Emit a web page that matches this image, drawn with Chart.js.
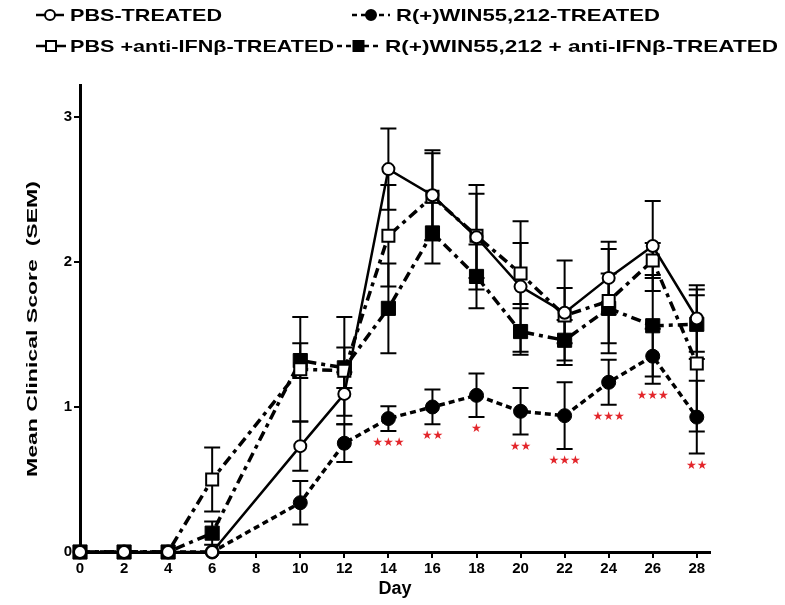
<!DOCTYPE html>
<html>
<head>
<meta charset="utf-8">
<script src="https://cdn.jsdelivr.net/npm/chart.js@4.4.1/dist/chart.umd.min.js"></script>
<style>
  html, body { margin: 0; padding: 0; background: #fff; }
  #wrap { width: 785px; height: 605px; position: relative; }
</style>
</head>
<body>
<div id="wrap"><canvas id="chart" width="785" height="605"></canvas></div>
<script>
// data
const days = [0, 2, 4, 6, 10, 12, 14, 16, 18, 20, 22, 24, 26, 28];
const xTicks = [0, 2, 4, 6, 8, 10, 12, 14, 16, 18, 20, 22, 24, 26, 28];
const yTicks = [0, 1, 2, 3];

const pbs        = [0, 0, 0, 0, 0.73, 1.09, 2.64, 2.46, 2.17, 1.83, 1.65, 1.89, 2.11, 1.61];
const pbsSem     = [0, 0, 0, 0, 0.17, 0.15, 0.28, 0.31, 0.36, 0.45, 0.36, 0.25, 0.31, 0.23];
const win        = [0, 0, 0, 0, 0.34, 0.75, 0.92, 1.00, 1.08, 0.97, 0.94, 1.17, 1.35, 0.93];
const winSem     = [0, 0, 0, 0, 0.15, 0.13, 0.085, 0.12, 0.15, 0.16, 0.23, 0.155, 0.19, 0.25];
const pbsAnti    = [0, 0, 0, 0.50, 1.26, 1.25, 2.18, 2.45, 2.18, 1.92, 1.63, 1.73, 2.01, 1.30];
const pbsAntiSem = [0, 0, 0, 0.22, 0.36, 0.37, 0.35, 0.30, 0.29, 0.21, 0.19, 0.36, 0.12, 0.47];
const winAnti    = [0, 0, 0, 0.13, 1.32, 1.27, 1.68, 2.20, 1.90, 1.52, 1.46, 1.68, 1.56, 1.57];
const winAntiSem = [0, 0, 0, 0.08, 0.12, 0.14, 0.31, 0.21, 0.22, 0.16, 0.14, 0.24, 0.35, 0.24];

// significance marks under the R(+)WIN55,212 series
const stars = ['', '', '', '', '', '', '★★★', '★★', '★', '★★', '★★★', '★★★', '★★★', '★★'];

const labels = [
  'PBS-TREATED',
  'R(+)WIN55,212-TREATED',
  'PBS +anti-IFNβ-TREATED',
  'R(+)WIN55,212 + anti-IFNβ-TREATED'
];
const yTitle = 'Mean Clinical Score  (SEM)';

const toPts = arr => arr.map((v, i) => ({ x: days[i], y: v }));
const semSets = [pbsSem, winSem, pbsAntiSem, winAntiSem];

// error bars under the markers
const errorBars = {
  id: 'errorBars',
  beforeDatasetsDraw(chart) {
    const { ctx, scales: { x, y } } = chart;
    ctx.save();
    ctx.strokeStyle = '#000';
    ctx.lineWidth = 2;
    chart.data.datasets.forEach((ds, d) => {
      semSets[d].forEach((e, i) => {
        if (!e) return;
        const px = x.getPixelForValue(days[i]);
        const hi = y.getPixelForValue(ds.data[i].y + e);
        const lo = y.getPixelForValue(ds.data[i].y - e);
        ctx.beginPath();
        ctx.moveTo(px, hi); ctx.lineTo(px, lo);
        ctx.moveTo(px - 8, hi); ctx.lineTo(px + 8, hi);
        ctx.moveTo(px - 8, lo); ctx.lineTo(px + 8, lo);
        ctx.stroke();
      });
    });
    ctx.restore();
  }
};

// red stars below the lower cap of the WIN series
const sigMarks = {
  id: 'sigMarks',
  afterDatasetsDraw(chart) {
    const { ctx, scales: { x, y } } = chart;
    ctx.save();
    ctx.fillStyle = '#e3262b';
    ctx.font = '12px "DejaVu Sans"';
    ctx.textAlign = 'center';
    ctx.textBaseline = 'middle';
    stars.forEach((s, i) => {
      if (!s) return;
      const px = x.getPixelForValue(days[i]);
      const py = y.getPixelForValue(win[i] - winSem[i]) + 12;
      ctx.fillText(s, px, py);
    });
    ctx.restore();
  }
};

// y title, stretched along its length like the original
const yTitleDraw = {
  id: 'yTitleDraw',
  afterDraw(chart) {
    const ctx = chart.ctx;
    ctx.save();
    ctx.font = 'bold 15px "Liberation Sans"';
    ctx.fillStyle = '#000';
    ctx.textAlign = 'center';
    ctx.textBaseline = 'middle';
    const w = ctx.measureText(yTitle).width;
    ctx.translate(33, 329);
    ctx.rotate(-Math.PI / 2);
    ctx.scale(296 / w, 1);
    ctx.fillText(yTitle, 0, 0);
    ctx.restore();
  }
};

// two-row legend like the original
const legendRows = {
  id: 'legendRows',
  afterDraw(chart) {
    const ctx = chart.ctx;
    const spots = [
      { x0: 36, x1: 64, y: 15, tx: 70, tEnd: 222 },
      { x0: 352, x1: 390, y: 15, tx: 396, tEnd: 660 },
      { x0: 36, x1: 66, y: 46, tx: 70, tEnd: 334 },
      { x0: 337, x1: 380, y: 46, tx: 385, tEnd: 778 }
    ];
    chart.data.datasets.forEach((ds, d) => {
      const s = spots[d];
      ctx.save();
      ctx.strokeStyle = '#000';
      ctx.lineWidth = 2.5;
      ctx.setLineDash(d === 0 || d === 2 ? [] : [5, 4]);
      ctx.beginPath();
      ctx.moveTo(s.x0, s.y); ctx.lineTo(s.x1, s.y);
      ctx.stroke();
      ctx.setLineDash([]);
      const mx = (s.x0 + s.x1) / 2;
      ctx.lineWidth = 2;
      ctx.fillStyle = ds.pointBackgroundColor;
      ctx.beginPath();
      if (ds.pointStyle === 'circle') ctx.arc(mx, s.y, 5, 0, Math.PI * 2);
      else ctx.rect(mx - 5, s.y - 5, 10, 10);
      ctx.fill();
      ctx.stroke();
      ctx.font = 'bold 17px "Liberation Sans"';
      ctx.fillStyle = '#000';
      ctx.textBaseline = 'middle';
      const w = ctx.measureText(labels[d]).width;
      const k = (s.tEnd - s.tx) / w;
      ctx.translate(s.tx, s.y);
      ctx.scale(k, 1);
      ctx.fillText(labels[d], 0, 1);
      ctx.restore();
    });
  }
};

new Chart(document.getElementById('chart'), {
  type: 'line',
  data: {
    datasets: [
      {
        label: labels[0], data: toPts(pbs),
        borderColor: '#000', borderWidth: 2.5,
        pointStyle: 'circle', pointRadius: 6, pointBorderWidth: 2,
        pointBackgroundColor: '#fff', pointBorderColor: '#000', clip: false
      },
      {
        label: labels[1], data: toPts(win),
        borderColor: '#000', borderWidth: 3.5, borderDash: [6, 4],
        pointStyle: 'circle', pointRadius: 7, pointBorderWidth: 1,
        pointBackgroundColor: '#000', pointBorderColor: '#000', clip: false
      },
      {
        label: labels[2], data: toPts(pbsAnti),
        borderColor: '#000', borderWidth: 3.5, borderDash: [10, 5, 4, 5],
        pointStyle: 'rect', pointRadius: 8.5, pointBorderWidth: 2,
        pointBackgroundColor: '#fff', pointBorderColor: '#000', clip: false
      },
      {
        label: labels[3], data: toPts(winAnti),
        borderColor: '#000', borderWidth: 3.5, borderDash: [10, 5, 4, 5],
        pointStyle: 'rect', pointRadius: 10, pointBorderWidth: 1,
        pointBackgroundColor: '#000', pointBorderColor: '#000', clip: false
      }
    ]
  },
  options: {
    responsive: false,
    animation: false,
    layout: { padding: { left: 0, right: 75, top: 85, bottom: 0 } },
    scales: {
      x: {
        type: 'linear', min: 0, max: 28.6,
        afterBuildTicks: s => { s.ticks = xTicks.map(v => ({ value: v })); },
        afterFit: s => { s.height = 53; },
        border: { color: '#000', width: 3 },
        grid: { drawOnChartArea: false, drawTicks: true, tickLength: 6, color: '#000', lineWidth: 2 },
        ticks: { color: '#000', padding: 2, maxRotation: 0, autoSkip: false,
                 font: { family: 'Liberation Sans', size: 15, weight: 'bold' } },
        title: { display: true, text: 'Day', color: '#000', padding: { top: 0, bottom: 5 },
                 font: { family: 'Liberation Sans', size: 18, weight: 'bold' } }
      },
      y: {
        min: 0, max: 3.22,
        afterBuildTicks: s => { s.ticks = yTicks.map(v => ({ value: v })); },
        afterFit: s => { s.width = 80; },
        border: { color: '#000', width: 3 },
        grid: { drawOnChartArea: false, drawTicks: true, tickLength: 6, color: '#000', lineWidth: 2 },
        ticks: { color: '#000', padding: 2,
                 font: { family: 'Liberation Sans', size: 15, weight: 'bold' } },
        title: { display: false }
      }
    },
    plugins: {
      legend: { display: false },
      tooltip: { enabled: false }
    }
  },
  plugins: [errorBars, sigMarks, yTitleDraw, legendRows]
});
</script>
</body>
</html>
